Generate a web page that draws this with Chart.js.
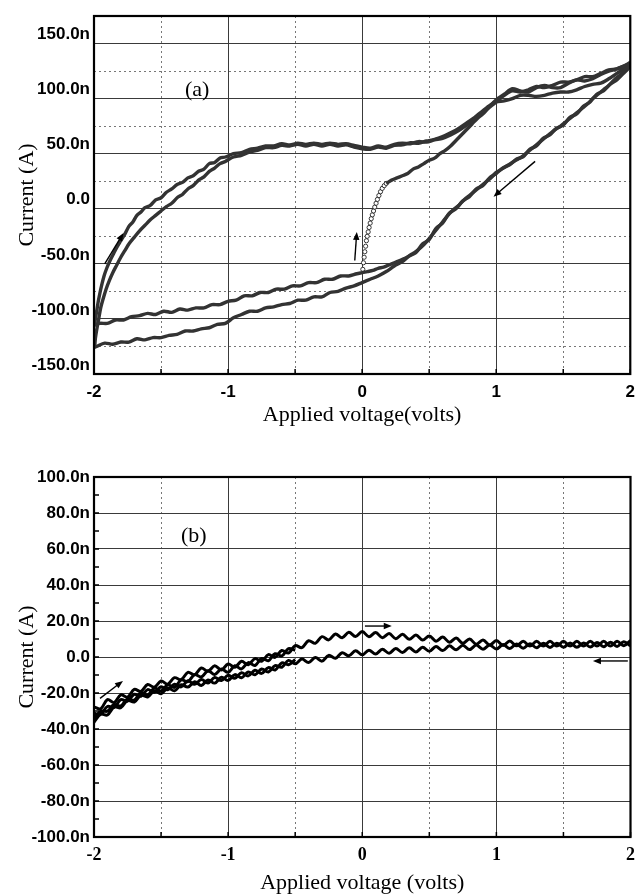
<!DOCTYPE html>
<html>
<head>
<meta charset="utf-8">
<script src="https://cdn.jsdelivr.net/npm/chart.js@4.4.1/dist/chart.umd.min.js"></script>
<style>
  html, body { margin: 0; padding: 0; background: #fff; }
  #wrapA { position: absolute; left: 0; top: 0; width: 643px; height: 440px; }
  #wrapB { position: absolute; left: 0; top: 440px; width: 643px; height: 455px; }
</style>
</head>
<body>
<div id="wrapA"><canvas id="chartA" width="643" height="440"></canvas></div>
<div id="wrapB"><canvas id="chartB" width="643" height="455"></canvas></div>
<script>
// ---- panel (a), [volts, nA] ----
const initDots = [[0.005,-55],[0.01,-49],[0.015,-44],[0.02,-39],[0.026,-34],[0.032,-29],[0.038,-25],[0.045,-21],[0.052,-17],[0.06,-13],[0.068,-9],[0.076,-5.5],[0.085,-2],[0.094,1.5],[0.104,5],[0.114,8.5],[0.125,12],[0.137,15.5],[0.15,18.5],[0.165,21],[0.18,23]];
const initSweep = [[0.18,23],[0.22,26],[0.26,28],[0.3,30],[0.34,32],[0.38,36],[0.42,38],[0.46,41],[0.5,44],[0.54,46],[0.58,50],[0.62,53],[0.66,57],[0.7,62],[0.74,67],[0.78,72],[0.82,77],[0.86,82],[0.9,86],[0.94,91],[0.98,95],[1.02,99],[1.06,103],[1.12,107],[1.18,106],[1.24,108],[1.3,111],[1.36,110],[1.42,112],[1.48,115],[1.54,115],[1.6,117],[1.66,120],[1.72,120],[1.78,123],[1.84,126],[1.9,127],[1.96,130],[2.0,132]];
const riseOuter = [[-1.995,-106],[-1.99,-100],[-1.98,-93],[-1.968,-84],[-1.955,-76],[-1.94,-68],[-1.925,-61],[-1.905,-54],[-1.88,-47],[-1.855,-41],[-1.83,-35],[-1.8,-29],[-1.77,-23],[-1.74,-16],[-1.71,-12],[-1.68,-6],[-1.65,-3],[-1.62,1],[-1.58,3],[-1.54,8],[-1.5,10],[-1.46,15],[-1.42,18],[-1.38,22],[-1.34,24],[-1.3,28],[-1.26,30],[-1.22,34],[-1.18,36],[-1.14,41],[-1.1,42],[-1.06,46],[-1.02,47],[-0.96,50],[-0.9,51],[-0.84,54],[-0.78,55],[-0.72,57],[-0.66,57],[-0.6,59],[-0.54,58],[-0.48,59.5],[-0.42,58.5],[-0.36,59.5],[-0.3,58.5],[-0.24,59.5],[-0.18,58.5],[-0.12,59],[-0.06,57.5],[0,56],[0.06,55],[0.12,57],[0.18,56],[0.24,58.5],[0.3,59.5],[0.36,59],[0.42,61],[0.48,60.5],[0.54,62.5],[0.6,64],[0.66,67],[0.72,71],[0.78,76],[0.84,81],[0.9,88],[0.96,94],[1.0,99],[1.06,104],[1.12,109],[1.18,107],[1.24,106],[1.3,110],[1.36,112],[1.42,110],[1.48,110],[1.54,114],[1.6,117],[1.66,116],[1.72,118],[1.78,122],[1.84,125],[1.9,127],[1.96,130],[2.0,133]];
const riseInner = [[-1.995,-126],[-1.99,-118],[-1.98,-110],[-1.965,-100],[-1.95,-90],[-1.93,-81],[-1.91,-73],[-1.885,-65],[-1.86,-58],[-1.83,-51],[-1.8,-44],[-1.77,-38],[-1.74,-32],[-1.7,-26],[-1.66,-20],[-1.62,-15],[-1.58,-10],[-1.54,-6],[-1.5,-2],[-1.46,2],[-1.42,5],[-1.38,10],[-1.34,13],[-1.3,18],[-1.26,21],[-1.22,26],[-1.18,29],[-1.14,34],[-1.1,37],[-1.06,41],[-1.02,43],[-0.96,47],[-0.9,48.5],[-0.84,51.5],[-0.78,53],[-0.72,55.5],[-0.66,55.5],[-0.6,57.5],[-0.54,57],[-0.48,58.5],[-0.42,57],[-0.36,58.5],[-0.3,57],[-0.24,58.5],[-0.18,57],[-0.12,58],[-0.06,56],[0,54.5],[0.06,54],[0.12,56],[0.18,55],[0.24,57.5],[0.3,58],[0.36,60],[0.42,59.5],[0.48,61.5],[0.54,63],[0.6,65.5],[0.66,69],[0.72,73],[0.78,78],[0.84,83],[0.9,89],[0.96,94.5],[1.0,97],[1.06,98],[1.12,100],[1.18,103],[1.24,103],[1.3,102],[1.36,103],[1.42,105],[1.48,106],[1.54,106],[1.6,108],[1.66,111],[1.72,113],[1.78,114],[1.84,118],[1.9,123],[1.96,128],[2.0,131]];
const fallUpper = [[2.0,131],[1.96,126],[1.92,121],[1.88,117],[1.84,112],[1.8,108],[1.76,104],[1.72,100],[1.68,95],[1.64,91],[1.6,87],[1.56,83],[1.52,79],[1.48,75],[1.44,72],[1.4,68],[1.36,64],[1.32,60],[1.28,56],[1.24,52],[1.2,48],[1.16,45],[1.12,42],[1.08,39],[1.04,36],[1.0,33],[0.96,28],[0.92,24],[0.88,20],[0.84,16],[0.8,12],[0.76,8],[0.72,3],[0.68,-1],[0.64,-6],[0.6,-12],[0.56,-18],[0.52,-24],[0.48,-30],[0.44,-35],[0.4,-39],[0.36,-42],[0.32,-45],[0.28,-47],[0.24,-49],[0.2,-51],[0.16,-53],[0.12,-54],[0.08,-56],[0.04,-57],[0,-58],[-0.04,-59],[-0.1,-61],[-0.16,-61],[-0.22,-64],[-0.28,-64],[-0.34,-67],[-0.4,-67],[-0.46,-70],[-0.52,-70],[-0.58,-73],[-0.64,-73],[-0.7,-76],[-0.76,-76],[-0.82,-79],[-0.88,-79],[-0.94,-83],[-1.0,-84],[-1.06,-87],[-1.12,-87],[-1.18,-90],[-1.24,-90],[-1.3,-92],[-1.36,-91],[-1.42,-94],[-1.48,-93],[-1.54,-96],[-1.6,-95],[-1.66,-97],[-1.72,-98],[-1.78,-101],[-1.84,-101],[-1.9,-104],[-1.96,-104],[-2,-106]];
const fallLower = [[2.0,129],[1.95,123],[1.9,117],[1.85,113],[1.8,107],[1.75,104],[1.7,97],[1.65,93],[1.6,86],[1.55,83],[1.5,76],[1.45,73],[1.4,67],[1.35,64],[1.3,57],[1.25,54],[1.2,47],[1.15,45],[1.1,40],[1.05,37],[1.0,32],[0.95,28],[0.9,21],[0.85,18],[0.8,11],[0.75,7],[0.7,0],[0.65,-4],[0.6,-13],[0.55,-18],[0.5,-28],[0.45,-32],[0.4,-40],[0.35,-43],[0.3,-48],[0.24,-52],[0.18,-57],[0.12,-61],[0.06,-64],[0,-67],[-0.06,-70],[-0.12,-72],[-0.18,-75],[-0.24,-76],[-0.3,-80],[-0.36,-80],[-0.42,-83],[-0.48,-83],[-0.54,-86],[-0.6,-87],[-0.66,-89],[-0.72,-90],[-0.78,-93],[-0.84,-93],[-0.9,-96],[-0.96,-99],[-1.02,-104],[-1.08,-105],[-1.14,-108],[-1.2,-109],[-1.26,-111],[-1.32,-111],[-1.38,-114],[-1.44,-115],[-1.5,-117],[-1.56,-117],[-1.62,-119],[-1.68,-118],[-1.74,-121],[-1.8,-121],[-1.86,-123],[-1.92,-122],[-1.98,-125],[-2,-126]];
// arrows: [x0, y0, x1, y1] in data units, head at the second point
const arrowsA = [[-1.92,-50,-1.78,-22],[-0.055,-47,-0.04,-21],[1.29,43,0.98,11]];

// ---- panel (b) ----
const voltsB = [-2,-1.95,-1.9,-1.85,-1.8,-1.75,-1.7,-1.65,-1.6,-1.55,-1.5,-1.45,-1.4,-1.35,-1.3,-1.25,-1.2,-1.15,-1.1,-1.05,-1,-0.95,-0.9,-0.85,-0.8,-0.75,-0.7,-0.65,-0.6,-0.55,-0.5,-0.45,-0.4,-0.35,-0.3,-0.25,-0.2,-0.15,-0.1,-0.05,0,0.05,0.1,0.15,0.2,0.25,0.3,0.35,0.4,0.45,0.5,0.55,0.6,0.65,0.7,0.75,0.8,0.85,0.9,0.95,1,1.05,1.1,1.15,1.2,1.25,1.3,1.35,1.4,1.45,1.5,1.55,1.6,1.65,1.7,1.75,1.8,1.85,1.9,1.95,2];
const sweepUp = [-27.7,-28.8,-23.7,-25.3,-21.0,-22.3,-18.0,-19.1,-15.3,-16.8,-13.3,-15.1,-11.5,-12.6,-8.5,-9.9,-6.1,-7.9,-4.9,-7.2,-3.9,-5.7,-2.4,-4.3,-0.9,-2.4,1.3,-0.2,3.6,2.2,6.3,5.2,9.0,7.6,11.3,9.5,12.8,10.7,13.7,11.4,14.1,11.3,13.6,10.7,13.0,10.2,12.6,9.8,12.2,9.4,11.7,8.8,11.1,8.2,10.5,7.6,10.0,7.1,9.4,6.6,9.1,6.4,8.9,6.2,8.7,6.1,8.7,6.1,8.7,6.1,8.7,6.1,8.7,6.1,8.7,6.1,8.7,6.1,8.7,6.3,9.2];
const sweepDown = [-36.2,-31.8,-32.2,-27.8,-28.2,-24.1,-25.0,-21.2,-22.2,-18.8,-20.4,-17.2,-18.8,-15.4,-16.7,-13.8,-15.8,-12.8,-14.5,-11.3,-13.0,-9.8,-11.5,-8.3,-9.9,-6.7,-8.3,-4.8,-5.7,-1.9,-3.8,-1.1,-3.1,-0.3,-2.3,0.9,-0.7,2.4,0.7,3.5,1.2,3.8,1.7,4.3,2.1,4.7,2.5,5.1,2.8,5.4,3.2,5.8,3.6,6.2,4.0,6.5,4.1,6.6,4.3,6.7,4.4,6.9,4.7,7.2,4.9,7.4,5.1,7.6,5.3,7.7,5.4,7.8,5.4,7.8,5.5,8.0,5.7,8.2,5.9,8.5,6.2];
// second cycle, only visible apart from the first one below -0.5 V
const sweepUp2 = [-34.3,-30.1,-30.1,-26.4,-27.2,-23.2,-24.0,-19.8,-21.1,-17.3,-18.9,-15.4,-16.9,-12.7,-13.7,-9.8,-11.1,-7.6,-9.7,-6.7,-8.5,-4.9,-6.6,-3.1,-4.7,-0.8,-2.1,1.8,0.6,4.6,3.7];
const sweepDown2 = [-31.3,-31.8,-27.5,-28.0,-23.7,-24.5,-20.7,-21.8,-18.1,-19.6,-16.5,-18.2,-15.1,-16.6,-13.2,-15.2,-12.5,-14.4,-11.4,-13.1,-10.1,-11.8,-8.8,-10.5,-7.4,-9.1,-5.9,-7.2,-3.3,-4.3,-1.4];
const arrowsB = [[-1.955,-23,-1.784,-13.3],[0.02,17.2,0.22,17.2],[1.98,-2.2,1.72,-2.2]];

const SANS = '"Liberation Sans", Arial, sans-serif';
const SERIF = '"Liberation Serif", "Times New Roman", serif';

function isWhole(v) { return Math.abs(v - Math.round(v)) < 1e-6; }
function pairs(list) { return list.map(p => ({ x: p[0], y: p[1] })); }
function zip(xs, ys) { return ys.map((y, i) => ({ x: xs[i], y: y })); }
function nanoLabel(v) { return isWhole(v) && Math.round(v) === 0 ? '0.0' : v.toFixed(1) + 'n'; }

// a chain of small open circles: dark thick stroke with a light dotted core
function chain(list) {
    const data = pairs(list);
    return [
        { data: data, borderColor: '#333', borderWidth: 3.4, pointRadius: 0, tension: 0.3 },
        { data: data, borderColor: 'rgba(255,255,255,0.8)', borderWidth: 1.2, borderDash: [1.5, 1.5], pointRadius: 0, tension: 0.3 }
    ];
}

function drawArrow(ctx, x0, y0, x1, y1) {
    const ang = Math.atan2(y1 - y0, x1 - x0);
    const hl = 8, hw = 3.2;
    ctx.beginPath();
    ctx.moveTo(x0, y0);
    ctx.lineTo(x1 - Math.cos(ang) * hl * 0.8, y1 - Math.sin(ang) * hl * 0.8);
    ctx.stroke();
    ctx.beginPath();
    ctx.moveTo(x1, y1);
    ctx.lineTo(x1 - Math.cos(ang) * hl + Math.sin(ang) * hw, y1 - Math.sin(ang) * hl - Math.cos(ang) * hw);
    ctx.lineTo(x1 - Math.cos(ang) * hl - Math.sin(ang) * hw, y1 - Math.sin(ang) * hl + Math.cos(ang) * hw);
    ctx.closePath();
    ctx.fill();
}

// frame, inward tick marks, arrows and the panel letter
const framePlugin = {
    id: 'frame',
    afterDatasetsDraw(chart, args, opts) {
        const { ctx, chartArea: a } = chart;
        const xs = chart.scales.x, ys = chart.scales.y;
        ctx.save();
        ctx.strokeStyle = '#000';
        ctx.fillStyle = '#000';
        ctx.lineWidth = 1.5;
        ctx.beginPath();
        xs.ticks.forEach(t => {
            const px = xs.getPixelForValue(t.value);
            ctx.moveTo(px, a.bottom);
            ctx.lineTo(px, a.bottom - 5);
        });
        if (opts.yTicks) {
            ys.ticks.forEach(t => {
                const py = ys.getPixelForValue(t.value);
                ctx.moveTo(a.left, py);
                ctx.lineTo(a.left + 5, py);
            });
        }
        ctx.stroke();
        ctx.lineWidth = 2.2;
        ctx.strokeRect(a.left, a.top, a.right - a.left, a.bottom - a.top);
        ctx.lineWidth = 1.4;
        (opts.arrows || []).forEach(r => {
            drawArrow(ctx, xs.getPixelForValue(r[0]), ys.getPixelForValue(r[1]),
                xs.getPixelForValue(r[2]), ys.getPixelForValue(r[3]));
        });
        ctx.font = '22px ' + SERIF;
        ctx.textAlign = 'center';
        ctx.textBaseline = 'middle';
        ctx.fillText(opts.label.text, xs.getPixelForValue(opts.label.x), ys.getPixelForValue(opts.label.y));
        ctx.restore();
    }
};

function xAxis(cfg) {
    return {
        type: 'linear', min: -2, max: 2,
        afterFit: s => { s.height = cfg.height; },
        ticks: {
            stepSize: 0.5, autoSkip: false, maxRotation: 0, padding: cfg.pad,
            color: '#000', font: cfg.font,
            callback: v => isWhole(v) ? String(Math.round(v)) : ''
        },
        grid: {
            drawTicks: false, lineWidth: 1,
            color: c => (c.tick && isWhole(c.tick.value)) ? '#3a3a3a' : '#777'
        },
        border: {
            display: false,
            dash: c => (c.tick && !isWhole(c.tick.value)) ? [2, 3] : []
        },
        title: {
            display: true, text: cfg.title, color: '#000',
            font: { family: SERIF, size: 22, lineHeight: cfg.titleLH },
            padding: { top: 0, bottom: cfg.titlePad }
        }
    };
}

function yAxis(cfg) {
    const onMajor = v => Math.abs(v / cfg.major - Math.round(v / cfg.major)) < 1e-6;
    return {
        type: 'linear', min: cfg.min, max: cfg.max,
        afterFit: s => { s.width = 94; },
        ticks: {
            stepSize: cfg.step, autoSkip: false, padding: 4, labelOffset: cfg.labelOffset,
            color: '#000', font: { family: SANS, size: 17, weight: 'bold' },
            callback: v => onMajor(v) ? nanoLabel(v) : ''
        },
        grid: {
            drawTicks: false, lineWidth: 1,
            color: c => {
                if (!c.tick || onMajor(c.tick.value)) return '#3a3a3a';
                return cfg.minorGrid ? '#777' : 'rgba(0,0,0,0)';
            }
        },
        border: {
            display: false,
            dash: c => (!c.tick || onMajor(c.tick.value)) ? [] : [2, 3]
        },
        title: {
            display: true, text: 'Current (A)', color: '#000',
            font: { family: SERIF, size: 22 },
            padding: { top: 14, bottom: 0 }
        }
    };
}

const datasetsA = [].concat(
    chain(fallUpper), chain(fallLower), chain(riseOuter), chain(riseInner), chain(initSweep),
    [{
        data: pairs(initDots), showLine: false, pointRadius: 2.1, pointStyle: 'circle',
        pointBackgroundColor: '#fff', pointBorderColor: '#222', pointBorderWidth: 0.9
    }]
);

new Chart(document.getElementById('chartA'), {
    type: 'line',
    data: { datasets: datasetsA },
    options: {
        responsive: false, animation: false,
        layout: { padding: { top: 16, right: 6, left: 0, bottom: 0 } },
        plugins: {
            legend: { display: false }, tooltip: { enabled: false },
            frame: { arrows: arrowsA, yTicks: false, label: { text: '(a)', x: -1.23, y: 108 } }
        },
        scales: {
            x: xAxis({ height: 66, pad: 8, font: { family: SANS, size: 17, weight: 'bold' },
                       title: 'Applied voltage(volts)', titleLH: 1.2, titlePad: 12 }),
            y: yAxis({ min: -150, max: 175, step: 25, major: 50, minorGrid: true, labelOffset: -9 })
        }
    },
    plugins: [framePlugin]
});

function heavy(values) {
    return { data: zip(voltsB, values), borderColor: '#000', borderWidth: 3, pointRadius: 0, tension: 0.35 };
}

new Chart(document.getElementById('chartB'), {
    type: 'line',
    data: { datasets: [heavy(sweepUp), heavy(sweepDown), heavy(sweepUp2), heavy(sweepDown2)] },
    options: {
        responsive: false, animation: false,
        layout: { padding: { top: 37, right: 6, left: 0, bottom: 0 } },
        plugins: {
            legend: { display: false }, tooltip: { enabled: false },
            frame: { arrows: arrowsB, yTicks: true, label: { text: '(b)', x: -1.256, y: 67 } }
        },
        scales: {
            x: xAxis({ height: 58, pad: 8, font: { family: SERIF, size: 18, weight: 'bold' },
                       title: 'Applied voltage (volts)', titleLH: 1, titlePad: 1 }),
            y: yAxis({ min: -100, max: 100, step: 10, major: 20, minorGrid: false, labelOffset: 0 })
        }
    },
    plugins: [framePlugin]
});
</script>
</body>
</html>
